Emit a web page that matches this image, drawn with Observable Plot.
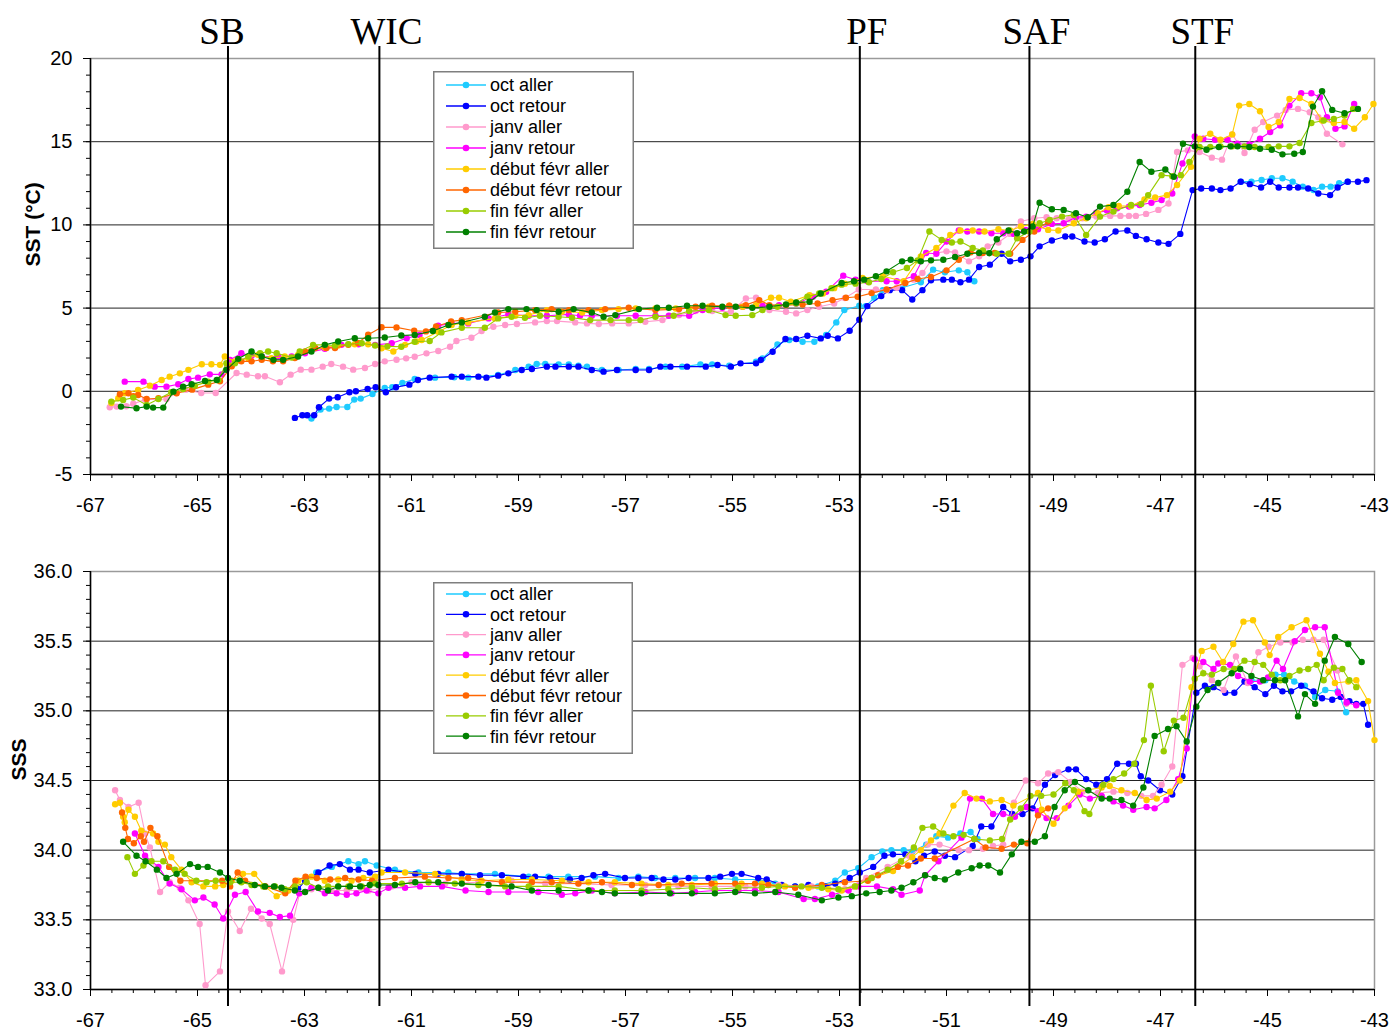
<!DOCTYPE html>
<html><head><meta charset="utf-8">
<script src="https://cdn.jsdelivr.net/npm/d3@7"></script>
<script src="https://cdn.jsdelivr.net/npm/@observablehq/plot@0.6"></script>
<style>
body{margin:0;background:#fff;font-family:"Liberation Sans",Arial,sans-serif;}
#wrap{position:relative;width:1392px;height:1030px;overflow:hidden;}
#wrap svg{display:block;}
</style></head><body><div id="wrap"></div>
<script>
const seriesNames = ["oct aller","oct retour","janv aller","janv retour","début févr aller","début févr retour","fin févr aller","fin févr retour"];
const seriesColors = ["#1ECBFF","#0000FF","#FF9ACC","#FF00FF","#FFCC00","#FF6600","#99CC00","#008000"];
const frontNames = ["SB","WIC","PF","SAF","STF"];
const frontLons = [-64.43,-61.6,-52.62,-49.45,-46.35];
const xDomain = [-67,-43];
const xMajor = [-67,-65,-63,-61,-59,-57,-55,-53,-51,-49,-47,-45,-43];
const sstDomain = [-5,20];
const sstMajor = [-5,0,5,10,15,20];
const sssDomain = [33,36];
const sssMajor = [33,33.5,34,34.5,35,35.5,36];

// SST (°C) [longitude, value]; null = gap
const sstOctAller = [[-62.87,-1.64],[-62.7,-1.1],[-62.54,-1.04],[-62.4,-0.94],[-62.2,-0.94],[-62.07,-0.5],[-61.95,-0.44],[-61.73,-0.16],[-61.5,0.2],[-61.36,0.24],[-61.17,0.5],[-60.94,0.74],[-60.56,0.82],[-60.2,0.84],[-59.94,0.82],[-59.38,0.98],[-59.06,1.28],[-58.81,1.48],[-58.66,1.64],[-58.5,1.64],[-58.25,1.62],[-58.06,1.62],[-57.88,1.54],[-57.72,1.48],[-57.44,1.28],[-57.13,1.28],[-56.81,1.34],[-56.56,1.34],[-56.25,1.48],[-55.94,1.48],[-55.6,1.62],[-55.38,1.62],[-55.06,1.54],[-54.56,1.78],[-54.44,1.98],[-54.16,2.82],[-53.94,3.08],[-53.69,2.98],[-53.47,2.98],[-53.25,3.38],[-53.06,4.14],[-52.91,4.88],[-52.63,5.14],[-52.51,5.12],[-52.35,5.62],[-52.19,6.08],[-51.83,6.22],[-51.48,6.55],[-51.25,7.31],[-51.03,7.15],[-50.77,7.27],[-50.61,7.15],[-50.48,6.61],[-48,null],[-45.5,12.6],[-45.3,12.6],[-45.11,12.7],[-44.92,12.8],[-44.72,12.8],[-44.53,12.6],[-44.34,12.3],[-44.14,12.1],[-43.98,12.3],[-43.82,12.3],[-43.66,12.5],[-43.5,12.6]];
const sstOctRetour = [[-63.18,-1.6],[-63.04,-1.44],[-62.95,-1.44],[-62.82,-1.44],[-62.73,-0.96],[-62.54,-0.44],[-62.38,-0.36],[-62.16,-0.06],[-62.04,0],[-61.82,0.14],[-61.67,0.24],[-61.48,-0.06],[-61.29,0.24],[-61.04,0.4],[-60.88,0.68],[-60.66,0.82],[-60.25,0.88],[-60.06,0.88],[-59.75,0.88],[-59.6,0.82],[-59.38,0.94],[-59.19,1.08],[-58.94,1.28],[-58.75,1.34],[-58.47,1.48],[-58.31,1.48],[-58.06,1.48],[-57.88,1.48],[-57.63,1.28],[-57.41,1.18],[-57.16,1.28],[-56.81,1.28],[-56.56,1.28],[-56.35,1.48],[-56.16,1.48],[-55.85,1.48],[-55.5,1.48],[-55.28,1.58],[-55.03,1.48],[-54.85,1.68],[-54.56,1.68],[-54.47,1.88],[-54.25,2.38],[-54.01,3.14],[-53.81,3.14],[-53.6,3.34],[-53.35,3.18],[-53.22,3.34],[-53.03,3.18],[-52.81,3.64],[-52.63,4.3],[-52.48,5.12],[-52.22,5.72],[-52.06,6.08],[-51.83,6.08],[-51.64,5.52],[-51.45,6.08],[-51.29,6.67],[-51.06,6.71],[-50.9,6.71],[-50.74,6.55],[-50.58,6.71],[-50.39,7.47],[-50.19,7.61],[-49.97,8.27],[-49.81,7.81],[-49.61,7.91],[-49.43,8.11],[-49.26,8.71],[-49.03,9.06],[-48.78,9.3],[-48.65,9.3],[-48.42,9.0],[-48.23,8.94],[-48.04,9.14],[-47.84,9.6],[-47.62,9.66],[-47.46,9.34],[-47.26,9.14],[-47.04,8.94],[-46.85,8.86],[-46.63,9.46],[-46.4,12.09],[-46.24,12.19],[-46.04,12.19],[-45.88,12.09],[-45.69,12.19],[-45.5,12.59],[-45.33,12.45],[-45.12,12.25],[-44.95,12.59],[-44.79,12.25],[-44.59,12.25],[-44.43,12.25],[-44.24,12.19],[-44.05,11.89],[-43.83,11.79],[-43.69,12.25],[-43.5,12.59],[-43.31,12.59],[-43.15,12.69]];
const sstJanvAller = [[-66.64,-0.96],[-66.51,-0.92],[-66.33,-0.9],[-66.2,-0.75],[-65.98,-0.5],[-65.58,-0.46],[-65.4,-0.1],[-65.22,0.1],[-64.93,-0.1],[-64.66,-0.1],[-64.27,1.1],[-64.08,1.0],[-63.87,0.9],[-63.74,0.9],[-63.46,0.54],[-63.26,1.0],[-63.07,1.3],[-62.87,1.3],[-62.66,1.48],[-62.5,1.64],[-62.28,1.48],[-62.09,1.3],[-61.87,1.4],[-61.68,1.64],[-61.5,1.8],[-61.28,1.9],[-61.1,1.98],[-60.94,2.08],[-60.72,2.28],[-60.5,2.42],[-60.28,2.68],[-60.16,3.02],[-59.88,3.22],[-59.69,3.62],[-59.47,3.88],[-59.25,3.98],[-59.03,4.04],[-58.69,4.14],[-58.47,4.22],[-58.28,4.22],[-57.94,4.14],[-57.72,4.08],[-57.5,4.04],[-57.25,4.08],[-56.94,4.08],[-56.63,4.18],[-56.31,4.28],[-56.0,4.58],[-55.69,4.82],[-55.38,4.82],[-55.03,4.78],[-54.75,5.58],[-54.56,5.62],[-54.31,4.88],[-54.0,4.78],[-53.81,4.68],[-53.6,4.88],[-53.38,5.08],[-53.1,5.28],[-52.9,5.6],[-52.64,6.12],[-52.32,6.12],[-52.12,6.08],[-51.93,6.22],[-51.61,6.71],[-51.45,7.11],[-51.19,8.31],[-51.0,8.41],[-50.84,8.35],[-50.58,7.81],[-50.39,8.11],[-50.23,8.71],[-50.03,8.94],[-49.81,9.46],[-49.61,10.2],[-49.36,10.4],[-49.13,10.46],[-48.94,10.4],[-48.71,10.34],[-48.46,10.4],[-48.2,10.5],[-47.94,10.54],[-47.75,10.54],[-47.59,10.54],[-47.46,10.54],[-47.27,10.66],[-47.04,10.9],[-46.85,11.29],[-46.69,14.38],[-46.49,14.48],[-46.27,14.38],[-46.04,14.04],[-45.85,13.92],[-45.66,15.44],[-45.43,14.32],[-45.24,15.72],[-45.08,16.18],[-44.82,16.57],[-44.66,16.91],[-44.43,16.97],[-44.21,16.77],[-44.05,16.47],[-43.89,15.48],[-43.6,14.84]];
const sstJanvRetour = [[-66.36,0.58],[-66.01,0.58],[-65.8,0.28],[-65.58,0.28],[-65.36,0.42],[-65.17,0.74],[-64.99,0.82],[-64.77,1.02],[-64.55,1.02],[-64.39,1.89],[-64.18,2.29],[-63.99,2.13],[-63.8,2.09],[-63.49,2.09],[-63.24,2.09],[-62.99,2.29],[-62.62,2.55],[-62.31,2.79],[-61.99,2.83],[-61.68,2.79],[-61.37,2.89],[-61.09,3.19],[-60.85,3.38],[-60.5,3.94],[-60.25,4.08],[-59.94,4.08],[-59.56,4.38],[-59.19,4.62],[-58.81,4.54],[-58.47,4.54],[-58.06,4.62],[-57.85,4.54],[-57.63,4.54],[-57.16,4.54],[-56.81,4.54],[-56.44,4.54],[-56.19,4.54],[-55.81,4.54],[-55.56,4.88],[-55.19,5.02],[-54.81,5.08],[-54.44,5.14],[-54.13,5.18],[-53.81,5.28],[-53.5,5.68],[-53.25,5.98],[-52.93,6.95],[-52.7,6.7],[-52.48,6.61],[-52.12,6.61],[-51.93,6.61],[-51.61,6.91],[-51.38,8.31],[-51.19,8.27],[-51.0,9.0],[-50.77,9.66],[-50.61,9.6],[-50.39,9.6],[-50.16,9.5],[-49.94,9.5],[-49.74,9.46],[-49.52,9.7],[-49.29,9.74],[-49.03,10.06],[-48.81,10.1],[-48.58,10.46],[-48.39,10.5],[-48.2,10.74],[-48.0,10.86],[-47.81,11.0],[-47.59,11.1],[-47.39,11.2],[-47.17,11.33],[-46.98,11.49],[-46.78,11.89],[-46.59,13.69],[-46.36,15.32],[-46.2,15.18],[-45.98,15.12],[-45.75,15.12],[-45.56,14.88],[-45.34,14.84],[-45.14,15.18],[-44.95,15.58],[-44.76,15.98],[-44.59,17.17],[-44.37,17.91],[-44.18,17.91],[-44.02,17.67],[-43.89,16.47],[-43.73,15.78],[-43.56,15.92],[-43.38,17.27]];
const sstDebutAller = [[-66.61,-0.7],[-66.48,-0.42],[-66.36,-0.12],[-66.11,0.08],[-65.89,0.34],[-65.67,0.68],[-65.52,0.88],[-65.33,1.08],[-65.17,1.29],[-64.92,1.63],[-64.74,1.63],[-64.58,1.59],[-64.49,2.09],[-64.3,1.79],[-64.05,1.99],[-63.87,2.19],[-63.62,1.99],[-63.37,2.09],[-63.12,2.19],[-62.87,2.49],[-62.62,2.63],[-62.37,2.75],[-62.06,2.83],[-61.81,2.83],[-61.56,2.59],[-61.34,2.39],[-61.12,2.79],[-60.91,2.99],[-60.81,3.08],[-60.5,3.58],[-60.25,3.98],[-59.94,4.14],[-59.44,4.38],[-59.06,4.54],[-58.81,4.58],[-58.47,4.88],[-58.19,4.78],[-57.81,4.74],[-57.44,4.88],[-57.13,4.94],[-56.81,4.98],[-56.44,4.98],[-56.06,4.98],[-55.81,4.98],[-55.44,5.08],[-55.06,5.14],[-54.81,5.08],[-54.56,5.18],[-54.28,5.62],[-54.13,5.62],[-53.91,5.38],[-53.56,5.78],[-53.31,5.88],[-53.1,6.2],[-52.9,6.47],[-52.57,6.81],[-52.19,6.91],[-51.8,6.61],[-51.48,8.11],[-51.19,8.61],[-50.93,9.4],[-50.74,9.66],[-50.51,9.66],[-50.29,9.6],[-50.03,9.74],[-49.81,9.66],[-49.61,9.9],[-49.39,10.06],[-49.1,9.7],[-48.91,9.66],[-48.62,10.1],[-48.39,10.4],[-48.17,10.7],[-47.97,11.06],[-47.78,11.14],[-47.55,11.14],[-47.3,11.53],[-47.1,11.65],[-46.88,11.79],[-46.69,12.4],[-46.43,13.49],[-46.27,15.18],[-46.07,15.48],[-45.88,15.12],[-45.66,15.44],[-45.53,17.17],[-45.34,17.27],[-45.14,16.83],[-44.98,15.88],[-44.79,16.18],[-44.59,17.57],[-44.4,17.63],[-44.18,17.27],[-43.98,16.27],[-43.76,16.12],[-43.56,16.18],[-43.38,15.78],[-43.18,16.47],[-43.02,17.27]];
const sstDebutRetour = [[-66.45,-0.18],[-66.29,-0.12],[-66.2,-0.3],[-66.11,-0.22],[-65.95,-0.46],[-65.73,-0.42],[-65.39,-0.12],[-65.1,0.1],[-64.8,0.4],[-64.58,0.6],[-64.36,1.5],[-64.18,1.8],[-63.99,1.8],[-63.8,1.9],[-63.59,1.8],[-63.4,1.8],[-63.18,2.0],[-62.99,2.4],[-62.8,2.6],[-62.59,2.6],[-62.43,2.6],[-62.18,2.8],[-62.0,2.9],[-61.81,3.4],[-61.56,3.85],[-61.28,3.84],[-60.95,3.64],[-60.73,3.6],[-60.54,3.9],[-60.26,4.2],[-60.06,4.28],[-59.38,4.74],[-59.06,4.78],[-58.69,4.88],[-58.38,4.94],[-58.06,4.88],[-57.69,4.88],[-57.38,4.94],[-56.94,5.02],[-56.44,4.88],[-56.0,4.94],[-55.69,5.08],[-55.38,5.14],[-55.06,5.14],[-54.75,5.18],[-54.5,5.48],[-54.31,5.18],[-54.0,5.18],[-53.69,5.22],[-53.41,5.28],[-53.13,5.48],[-52.88,5.62],[-52.66,5.68],[-52.4,5.9],[-52.12,6.12],[-51.77,6.51],[-51.54,6.75],[-51.29,6.87],[-51.0,7.27],[-50.77,7.91],[-50.55,8.35],[-50.32,8.31],[-50.1,8.31],[-49.81,8.27],[-49.58,9.1],[-49.36,9.6],[-49.1,10.2]];
const sstFinAller = [[-66.61,-0.62],[-66.39,-0.52],[-66.2,-0.38],[-65.95,-0.82],[-65.73,-0.46],[-65.49,-0.06],[-65.27,0.14],[-65.05,0.34],[-64.8,0.58],[-64.61,0.68],[-64.46,1.69],[-64.3,1.69],[-64.05,2.09],[-63.83,2.29],[-63.68,2.39],[-63.52,2.29],[-63.24,2.03],[-63.09,2.39],[-62.84,2.79],[-62.62,2.79],[-62.43,2.75],[-62.18,2.83],[-61.93,2.89],[-61.68,2.75],[-61.45,2.7],[-61.19,2.68],[-60.94,2.98],[-60.66,3.02],[-60.44,3.54],[-60.06,3.82],[-59.63,3.82],[-59.38,4.38],[-59.13,4.48],[-58.88,4.42],[-58.6,4.54],[-58.25,4.48],[-58.0,4.42],[-57.66,4.28],[-57.28,4.28],[-56.94,4.28],[-56.72,4.28],[-56.44,4.48],[-56.1,4.54],[-55.81,4.82],[-55.44,4.88],[-55.13,4.58],[-54.94,4.54],[-54.63,4.58],[-54.44,4.88],[-54.16,5.08],[-53.81,5.28],[-53.6,5.68],[-53.38,5.88],[-53.15,6.2],[-52.96,6.41],[-52.7,6.47],[-52.45,6.55],[-52.22,6.75],[-52.0,7.15],[-51.74,7.41],[-51.54,7.87],[-51.32,9.6],[-51.09,9.1],[-50.9,8.94],[-50.74,9.0],[-50.51,8.61],[-50.32,8.47],[-50.06,8.27],[-49.84,8.27],[-49.68,9.2],[-49.45,9.6],[-49.26,10.1],[-49.07,10.3],[-48.84,10.5],[-48.62,10.6],[-48.39,9.4],[-48.13,10.5],[-47.88,10.8],[-47.55,11.2],[-47.36,11.25],[-47.23,11.79],[-46.98,12.99],[-46.78,12.93],[-46.62,12.99],[-46.46,13.78],[-46.27,14.68],[-46.07,14.68],[-45.88,14.72],[-45.66,14.72],[-45.43,14.72],[-45.24,14.68],[-44.98,14.68],[-44.79,14.72],[-44.59,14.72],[-44.4,14.92],[-44.18,16.12],[-43.95,16.27],[-43.76,16.37],[-43.56,16.57],[-43.4,16.97]];
const sstFinRetour = [[-66.43,-0.92],[-66.14,-1.02],[-65.95,-0.92],[-65.83,-0.98],[-65.64,-0.98],[-65.45,-0.02],[-65.27,0.28],[-65.11,0.42],[-64.86,0.62],[-64.64,0.68],[-64.46,1.29],[-64.24,1.95],[-63.99,2.39],[-63.8,2.09],[-63.58,1.89],[-63.4,1.89],[-63.12,2.09],[-62.87,2.39],[-62.62,2.79],[-62.37,2.99],[-62.06,3.19],[-61.81,3.19],[-61.5,3.23],[-61.19,3.35],[-60.94,3.39],[-60.6,3.62],[-60.31,3.98],[-60.06,4.14],[-59.63,4.48],[-59.44,4.74],[-59.19,4.94],[-58.85,4.94],[-58.66,4.88],[-58.25,4.78],[-57.97,4.94],[-57.63,4.74],[-57.41,4.48],[-57.19,4.58],[-56.75,4.94],[-56.41,5.02],[-56.19,5.02],[-55.85,5.14],[-55.56,5.14],[-55.19,5.08],[-54.94,5.08],[-54.63,5.02],[-54.31,5.08],[-54.0,5.22],[-53.81,5.34],[-53.56,5.38],[-53.35,5.88],[-52.96,6.51],[-52.73,6.61],[-52.54,6.71],[-52.32,6.91],[-52.12,7.21],[-51.83,7.81],[-51.67,7.91],[-51.48,7.81],[-51.29,7.87],[-51.06,7.91],[-50.84,8.07],[-50.61,8.27],[-50.39,8.31],[-50.2,8.3],[-50.06,9.14],[-49.84,9.66],[-49.68,9.5],[-49.55,9.6],[-49.39,9.9],[-49.26,11.33],[-49.03,10.94],[-48.81,10.9],[-48.58,10.7],[-48.36,10.46],[-48.13,11.1],[-47.88,11.2],[-47.62,11.99],[-47.39,13.78],[-47.17,13.19],[-46.91,13.33],[-46.75,12.89],[-46.58,14.88],[-46.36,14.72],[-46.14,14.52],[-45.91,14.68],[-45.69,14.72],[-45.56,14.72],[-45.34,14.68],[-45.14,14.58],[-44.92,14.52],[-44.72,14.24],[-44.5,14.28],[-44.34,14.38],[-44.15,17.11],[-43.98,18.03],[-43.79,16.91],[-43.56,16.71],[-43.31,16.97]];

// SSS [longitude, value]
const sssOctAller = [[-62.78,33.84],[-62.49,33.88],[-62.18,33.92],[-61.99,33.9],[-61.87,33.92],[-61.65,33.89],[-61.31,33.86],[-60.87,33.84],[-60.31,33.84],[-60.06,33.83],[-59.44,33.83],[-58.81,33.81],[-58.44,33.81],[-58.07,33.81],[-57.57,33.81],[-57.13,33.8],[-56.76,33.81],[-56.45,33.8],[-56.07,33.8],[-55.7,33.8],[-55.33,33.8],[-54.95,33.79],[-54.52,33.79],[-54.2,33.76],[-53.83,33.74],[-53.4,33.74],[-53.08,33.78],[-52.9,33.84],[-52.65,33.87],[-52.4,33.95],[-52.2,33.99],[-52.03,34.0],[-51.8,34.0],[-51.64,33.99],[-51.38,34.04],[-51.19,34.1],[-50.97,34.09],[-50.74,34.12],[-50.55,34.13],[-50.42,34.08],[-48,null],[-45.3,35.22],[-45.04,35.22],[-44.85,35.26],[-44.69,35.26],[-44.5,35.21],[-44.3,35.18],[-44.11,35.1],[-43.92,35.15],[-43.69,35.14],[-43.53,34.99]];
const sssOctRetour = [[-63.12,33.72],[-62.99,33.78],[-62.74,33.84],[-62.53,33.89],[-62.34,33.9],[-62.15,33.86],[-61.99,33.86],[-61.78,33.84],[-61.43,33.86],[-60.93,33.83],[-60.5,33.83],[-60.06,33.83],[-59.72,33.82],[-59.31,33.82],[-58.91,33.81],[-58.69,33.81],[-58.41,33.8],[-58.04,33.79],[-57.82,33.8],[-57.6,33.82],[-57.38,33.83],[-57.01,33.8],[-56.76,33.8],[-56.51,33.8],[-56.29,33.79],[-56.07,33.79],[-55.82,33.8],[-55.45,33.8],[-55.23,33.81],[-55.01,33.83],[-54.83,33.83],[-54.52,33.8],[-54.36,33.79],[-54.08,33.75],[-53.83,33.74],[-53.58,33.75],[-53.27,33.74],[-53.08,33.76],[-52.81,33.8],[-52.62,33.84],[-52.37,33.88],[-52.16,33.96],[-52.0,33.97],[-51.77,33.97],[-51.58,33.92],[-51.42,33.96],[-51.22,33.99],[-51.03,33.96],[-50.84,33.95],[-50.51,34.03],[-50.35,34.17],[-50.16,34.17],[-49.94,34.31],[-49.77,34.26],[-49.58,34.26],[-49.39,34.3],[-49.16,34.47],[-48.97,34.54],[-48.72,34.58],[-48.58,34.58],[-48.39,34.51],[-48.2,34.47],[-48.0,34.51],[-47.81,34.62],[-47.59,34.62],[-47.46,34.62],[-47.37,34.53],[-47.23,34.5],[-47.01,34.43],[-46.78,34.4],[-46.59,34.53],[-46.33,35.13],[-46.17,35.18],[-46.01,35.17],[-45.79,35.13],[-45.62,35.13],[-45.43,35.21],[-45.24,35.17],[-45.04,35.12],[-44.88,35.18],[-44.72,35.14],[-44.56,35.14],[-44.37,35.18],[-44.14,35.14],[-43.98,35.09],[-43.79,35.08],[-43.63,35.1],[-43.47,35.07],[-43.34,35.05],[-43.21,35.05],[-43.12,34.9]];
const sssJanvAller = [[-66.54,34.43],[-66.45,34.36],[-66.29,34.31],[-66.1,34.34],[-65.98,34.12],[-65.89,34.02],[-65.7,33.7],[-65.52,33.77],[-65.33,33.73],[-65.17,33.64],[-64.96,33.47],[-64.85,33.03],[-64.58,33.13],[-64.43,33.56],[-64.21,33.42],[-64.0,33.58],[-63.8,33.51],[-63.65,33.47],[-63.42,33.13],[-63.21,33.5],[-63.09,33.69],[-62.87,33.72],[-62.5,33.71],[-62.21,33.71],[-61.8,33.71],[-61.37,33.74],[-61.0,33.77],[-60.37,33.76],[-59.75,33.77],[-59.13,33.78],[-58.5,33.76],[-57.88,33.76],[-57.26,33.75],[-56.63,33.75],[-56.01,33.74],[-55.39,33.74],[-54.76,33.74],[-54.14,33.75],[-53.52,33.74],[-52.9,33.72],[-52.5,33.8],[-52.1,33.88],[-51.7,33.96],[-51.35,34.04],[-51.13,34.04],[-50.77,34.0],[-50.58,34.0],[-50.32,34.01],[-50.13,34.03],[-49.94,34.04],[-49.74,34.34],[-49.52,34.5],[-49.29,34.48],[-49.1,34.55],[-48.91,34.56],[-48.68,34.49],[-48.46,34.42],[-48.17,34.41],[-47.88,34.42],[-47.62,34.41],[-47.36,34.39],[-47.14,34.39],[-46.98,34.47],[-46.78,34.6],[-46.59,35.33],[-46.4,35.38],[-46.27,35.32],[-46.04,35.22],[-45.82,35.15],[-45.59,35.39],[-45.37,35.2],[-45.17,35.42],[-44.98,35.46],[-44.76,35.49],[-44.53,35.49],[-44.34,35.51],[-44.14,35.51],[-43.95,35.51],[-43.69,35.29],[-43.53,35.05]];
const sssJanvRetour = [[-66.17,34.12],[-65.98,33.96],[-65.73,33.88],[-65.52,33.76],[-65.3,33.72],[-65.05,33.64],[-64.89,33.66],[-64.68,33.61],[-64.52,33.51],[-64.3,33.68],[-64.1,33.7],[-63.87,33.56],[-63.65,33.55],[-63.46,33.52],[-63.27,33.53],[-63.1,33.69],[-62.87,33.73],[-62.62,33.69],[-62.4,33.69],[-62.21,33.68],[-62.03,33.69],[-61.84,33.71],[-61.62,33.69],[-61.43,33.73],[-61.12,33.73],[-60.84,33.74],[-60.43,33.74],[-59.99,33.71],[-59.56,33.7],[-59.19,33.7],[-58.63,33.7],[-58.19,33.68],[-57.94,33.69],[-57.63,33.71],[-57.2,33.69],[-56.63,33.7],[-56.14,33.69],[-55.7,33.7],[-55.33,33.71],[-54.89,33.71],[-54.58,33.71],[-54.14,33.7],[-53.67,33.65],[-53.46,33.65],[-53.14,33.68],[-52.83,33.71],[-52.65,33.74],[-52.3,33.74],[-52.0,33.72],[-51.84,33.68],[-51.5,33.71],[-51.4,33.82],[-51.15,33.92],[-50.72,34.09],[-50.56,34.37],[-50.34,34.37],[-50.13,34.26],[-49.94,34.26],[-49.72,34.24],[-49.5,34.31],[-49.29,34.28],[-49.13,34.23],[-48.94,34.23],[-48.72,34.32],[-48.51,34.4],[-48.32,34.37],[-48.1,34.39],[-47.88,34.35],[-47.7,34.32],[-47.51,34.29],[-47.26,34.31],[-47.11,34.3],[-46.89,34.36],[-46.67,34.51],[-46.51,34.73],[-46.36,35.37],[-46.2,35.35],[-46.01,35.3],[-45.92,35.34],[-45.7,35.33],[-45.55,35.25],[-45.33,35.21],[-45.14,35.21],[-44.99,35.24],[-44.83,35.36],[-44.71,35.3],[-44.49,35.5],[-44.3,35.58],[-44.11,35.6],[-43.93,35.6],[-43.68,35.13],[-43.52,35.06],[-43.34,35.04]];
const sssDebutAller = [[-66.54,34.33],[-66.45,34.34],[-66.39,34.24],[-66.36,34.2],[-66.29,34.29],[-66.17,34.24],[-66.05,34.14],[-65.83,34.12],[-65.73,34.06],[-65.61,34.04],[-65.49,33.95],[-65.3,33.86],[-65.11,33.77],[-64.89,33.74],[-64.67,33.74],[-64.52,33.75],[-64.36,33.78],[-64.15,33.83],[-63.94,33.83],[-63.74,33.74],[-63.52,33.67],[-63.3,33.71],[-63.12,33.78],[-62.87,33.81],[-62.62,33.78],[-62.37,33.79],[-62.12,33.78],[-61.9,33.8],[-61.68,33.81],[-61.56,33.84],[-61.12,33.84],[-60.56,33.83],[-60.06,33.79],[-59.69,33.78],[-59.19,33.79],[-58.75,33.79],[-58.19,33.78],[-57.69,33.77],[-57.2,33.77],[-56.7,33.76],[-56.2,33.75],[-55.76,33.75],[-55.33,33.76],[-54.83,33.76],[-54.45,33.76],[-54.02,33.74],[-53.58,33.73],[-53.21,33.72],[-52.96,33.71],[-52.71,33.74],[-52.4,33.8],[-52.0,33.85],[-51.64,33.95],[-51.48,34.0],[-51.29,34.07],[-51.13,34.12],[-50.87,34.32],[-50.66,34.41],[-50.44,34.37],[-50.19,34.35],[-49.97,34.36],[-49.75,34.32],[-49.29,34.41],[-49.22,34.29],[-49.0,34.19],[-48.79,34.3],[-48.54,34.42],[-48.1,34.45],[-47.95,34.46],[-47.73,34.43],[-47.48,34.41],[-47.26,34.36],[-47.07,34.37],[-46.82,34.42],[-46.64,34.5],[-46.42,35.17],[-46.23,35.43],[-46.01,35.46],[-45.83,35.35],[-45.64,35.48],[-45.45,35.64],[-45.27,35.65],[-45.05,35.49],[-44.96,35.4],[-44.8,35.53],[-44.55,35.6],[-44.27,35.65],[-44.02,35.41],[-43.86,35.28],[-43.74,35.2],[-43.49,35.21],[-43.34,35.22],[-43.12,35.07],[-43.0,34.79]];
const sssDebutRetour = [[-66.41,34.27],[-66.35,34.16],[-66.3,34.08],[-66.19,34.05],[-66.06,34.1],[-66.0,34.06],[-65.88,34.16],[-65.75,34.1],[-65.53,33.88],[-65.32,33.78],[-64.54,33.78],[-64.39,33.74],[-64.25,33.84],[-64.11,33.78],[-63.73,33.74],[-63.36,33.69],[-63.17,33.78],[-62.98,33.81],[-62.77,33.8],[-62.52,33.79],[-62.24,33.8],[-61.99,33.79],[-61.74,33.78],[-61.31,33.8],[-60.75,33.81],[-60.31,33.8],[-59.94,33.8],[-59.31,33.77],[-58.75,33.77],[-58.38,33.77],[-57.88,33.76],[-57.44,33.77],[-56.88,33.75],[-56.38,33.75],[-55.95,33.76],[-55.39,33.76],[-54.95,33.76],[-54.58,33.76],[-54.33,33.75],[-53.83,33.73],[-53.33,33.75],[-52.9,33.77],[-52.47,33.78],[-52.28,33.82],[-51.91,33.88],[-51.72,33.89],[-51.48,33.94],[-51.22,33.94],[-50.48,34.08],[-50.27,34.02],[-49.97,34.01],[-49.74,34.04],[-49.49,34.05],[-49.29,34.25],[-49.1,34.3]];
const sssFinAller = [[-66.31,33.95],[-66.17,33.83],[-66.01,33.89],[-65.86,33.92],[-65.64,33.92],[-65.42,33.86],[-65.24,33.83],[-65.02,33.78],[-64.83,33.77],[-64.66,33.78],[-64.39,33.77],[-64.18,33.77],[-63.99,33.75],[-63.77,33.74],[-63.55,33.74],[-63.37,33.72],[-63.18,33.74],[-62.96,33.77],[-62.74,33.73],[-62.56,33.74],[-62.37,33.74],[-62.18,33.74],[-61.93,33.74],[-61.68,33.76],[-61.18,33.76],[-60.68,33.77],[-60.19,33.76],[-59.75,33.75],[-59.25,33.74],[-58.81,33.74],[-58.25,33.74],[-57.69,33.71],[-57.2,33.71],[-56.7,33.71],[-56.2,33.72],[-55.76,33.73],[-55.33,33.72],[-54.89,33.73],[-54.45,33.73],[-54.14,33.74],[-53.71,33.74],[-53.33,33.73],[-53.02,33.72],[-52.71,33.74],[-52.4,33.8],[-52.1,33.86],[-51.85,33.92],[-51.61,34.02],[-51.45,34.16],[-51.25,34.17],[-51.06,34.12],[-50.87,34.1],[-50.68,34.11],[-50.48,34.08],[-50.19,34.07],[-49.96,34.08],[-49.81,34.22],[-49.61,34.3],[-49.43,34.39],[-49.23,34.39],[-49.0,34.4],[-48.78,34.48],[-48.62,34.43],[-48.42,34.28],[-48.33,34.26],[-48.07,34.47],[-47.88,34.51],[-47.68,34.55],[-47.49,34.62],[-47.31,34.79],[-47.18,35.18],[-46.94,34.71],[-46.75,34.93],[-46.57,34.95],[-46.36,35.23],[-46.2,35.27],[-46.04,35.26],[-45.82,35.3],[-45.62,35.3],[-45.43,35.36],[-45.24,35.35],[-45.08,35.33],[-44.92,35.26],[-44.76,35.22],[-44.59,35.25],[-44.4,35.29],[-44.24,35.3],[-44.08,35.33],[-43.95,35.22],[-43.76,35.31],[-43.6,35.3],[-43.47,35.22],[-43.34,35.17]];
const sssFinRetour = [[-66.39,34.06],[-66.14,33.96],[-65.97,33.92],[-65.76,33.86],[-65.58,33.8],[-65.39,33.83],[-65.14,33.9],[-64.99,33.88],[-64.81,33.88],[-64.58,33.84],[-64.43,33.8],[-64.21,33.78],[-63.93,33.75],[-63.74,33.74],[-63.57,33.74],[-63.43,33.73],[-63.18,33.71],[-62.99,33.7],[-62.74,33.73],[-62.56,33.71],[-62.37,33.74],[-62.15,33.74],[-61.96,33.74],[-61.78,33.75],[-61.62,33.75],[-61.31,33.75],[-60.93,33.77],[-60.5,33.77],[-60.06,33.76],[-59.56,33.75],[-59.13,33.74],[-58.75,33.71],[-58.25,33.71],[-57.69,33.71],[-57.44,33.7],[-57.2,33.69],[-56.7,33.69],[-56.17,33.69],[-55.76,33.69],[-55.33,33.69],[-54.95,33.7],[-54.58,33.69],[-54.2,33.7],[-53.77,33.68],[-53.33,33.64],[-53.02,33.66],[-52.77,33.67],[-52.5,33.69],[-52.25,33.7],[-52.03,33.71],[-51.84,33.73],[-51.62,33.77],[-51.4,33.82],[-51.22,33.8],[-51.03,33.79],[-50.78,33.84],[-50.53,33.87],[-50.38,33.89],[-50.22,33.89],[-50.0,33.84],[-49.78,33.97],[-49.6,34.06],[-49.35,34.06],[-49.16,34.1],[-48.98,34.31],[-48.79,34.43],[-48.6,34.49],[-48.35,34.43],[-48.1,34.37],[-47.95,34.37],[-47.73,34.36],[-47.51,34.32],[-47.32,34.45],[-47.11,34.82],[-46.86,34.87],[-46.7,34.89],[-46.51,34.78],[-46.33,35.03],[-46.12,35.15],[-45.92,35.2],[-45.67,35.27],[-45.51,35.3],[-45.3,35.25],[-45.08,35.22],[-44.86,35.22],[-44.67,35.22],[-44.43,34.96],[-44.3,35.12],[-44.11,35.05],[-43.93,35.36],[-43.74,35.53],[-43.49,35.48],[-43.24,35.35]];

const sstSeries = [sstOctAller,sstOctRetour,sstJanvAller,sstJanvRetour,sstDebutAller,sstDebutRetour,sstFinAller,sstFinRetour];
const sssSeries = [sssOctAller,sssOctRetour,sssJanvAller,sssJanvRetour,sssDebutAller,sssDebutRetour,sssFinAller,sssFinRetour];

const fronts = frontNames.map((name, i) => ({name, lon: frontLons[i]}));
const xMinor = d3.range(0, 61).map(i => +(xDomain[0] + i * 0.4).toFixed(1));
const FONT = "'Liberation Sans', Arial, sans-serif";
const SERIF = "'Liberation Serif','Times New Roman',serif";

function rows(series) {
  return series.map((pts, i) => pts.map(([lon, v]) => ({series: seriesNames[i], lon, v})));
}

function panel({series, yDomain, yMajor, yMinor, yFmt, height, mt, mb, title, titleDx, ruleTop, ruleBottom, showFrontNames}) {
  const groups = rows(series);
  const marks = [
    Plot.gridY(yMajor, {stroke: "#222", strokeOpacity: 1, strokeWidth: 1}),
    Plot.frame({stroke: "#9a9a9a", strokeWidth: 1.5}),
    Plot.ruleX([xDomain[0]], {stroke: "#000", strokeWidth: 1.5}),
    Plot.ruleY([yDomain[0]], {stroke: "#000", strokeWidth: 1.5}),
    Plot.axisY({ticks: yMinor, tickSize: 4, tickFormat: () => "", label: null}),
    Plot.axisY({ticks: yMajor, tickSize: 7, tickPadding: 11, tickFormat: yFmt, label: null, fontSize: 20}),
    Plot.axisX({ticks: xMinor, tickSize: 4, tickFormat: () => "", label: null}),
    Plot.axisX({ticks: xMajor, tickSize: 7, tickPadding: 16, tickFormat: d => String(d), label: null, fontSize: 20}),
  ];
  groups.forEach((g, i) => {
    marks.push(Plot.line(g, {x: "lon", y: "v", stroke: seriesColors[i], strokeWidth: 1.1}));
    marks.push(Plot.dot(g.filter(d => d.v != null), {x: "lon", y: "v", fill: seriesColors[i], r: 3.2}));
  });
  marks.push(Plot.ruleX(fronts, {x: "lon", stroke: "#000", strokeWidth: 2, insetTop: ruleTop, insetBottom: ruleBottom}));
  if (showFrontNames) {
    const textOpts = {x: "lon", text: "name", frameAnchor: "top", dy: -26, lineAnchor: "middle", fontFamily: SERIF, fontSize: 37, fill: "#000"};
    marks.push(Plot.text(fronts.slice(0, 1), {...textOpts, dx: -6}));
    marks.push(Plot.text(fronts.slice(1), {...textOpts, dx: 7}));
  }
  marks.push(Plot.text([title], {frameAnchor: "left", text: d => d, rotate: -90, dx: titleDx, fontWeight: "bold", fontSize: 21, fill: "#000"}));
  return Plot.plot({
    width: 1392, height,
    marginLeft: 90, marginRight: 18, marginTop: mt, marginBottom: mb,
    x: {domain: xDomain},
    y: {domain: yDomain},
    style: {fontFamily: FONT, fontSize: "20px", color: "#000", background: "#fff", overflow: "visible"},
    marks
  });
}

const wrap = document.getElementById("wrap");
wrap.appendChild(panel({
  series: sstSeries, yDomain: sstDomain, yMajor: sstMajor, yMinor: d3.range(-5, 21, 1),
  yFmt: d => String(d), height: 520, mt: 58, mb: 46, title: "SST (°C)", titleDx: -57,
  ruleTop: -12, ruleBottom: -46, showFrontNames: true
}));
wrap.appendChild(panel({
  series: sssSeries, yDomain: sssDomain, yMajor: sssMajor, yMinor: d3.range(330, 361).map(v => v / 10),
  yFmt: d => d.toFixed(1), height: 510, mt: 51, mb: 41, title: "SSS", titleDx: -71,
  ruleTop: -51, ruleBottom: -17, showFrontNames: false
}));

function legend(left, top, w, h, y0, step) {
  const svg = d3.create("svg").attr("width", w).attr("height", h)
    .style("position", "absolute").style("left", left + "px").style("top", top + "px");
  svg.append("rect").attr("x", 0.75).attr("y", 0.75).attr("width", w - 1.5).attr("height", h - 1.5)
    .attr("fill", "#fff").attr("stroke", "#7f7f7f").attr("stroke-width", 1.5);
  seriesNames.forEach((name, i) => {
    const y = y0 + i * step;
    svg.append("line").attr("x1", 13).attr("x2", 53).attr("y1", y).attr("y2", y)
      .attr("stroke", seriesColors[i]).attr("stroke-width", 1.3);
    svg.append("circle").attr("cx", 33).attr("cy", y).attr("r", 3.3).attr("fill", seriesColors[i]);
    svg.append("text").attr("x", 57).attr("y", y).attr("dy", "0.36em")
      .attr("font-family", FONT).attr("font-size", 18).attr("fill", "#000").text(name);
  });
  wrap.appendChild(svg.node());
}
legend(433, 71, 201, 178, 14, 21);
legend(433, 582, 200, 172, 12, 20.3);
</script></body></html>
